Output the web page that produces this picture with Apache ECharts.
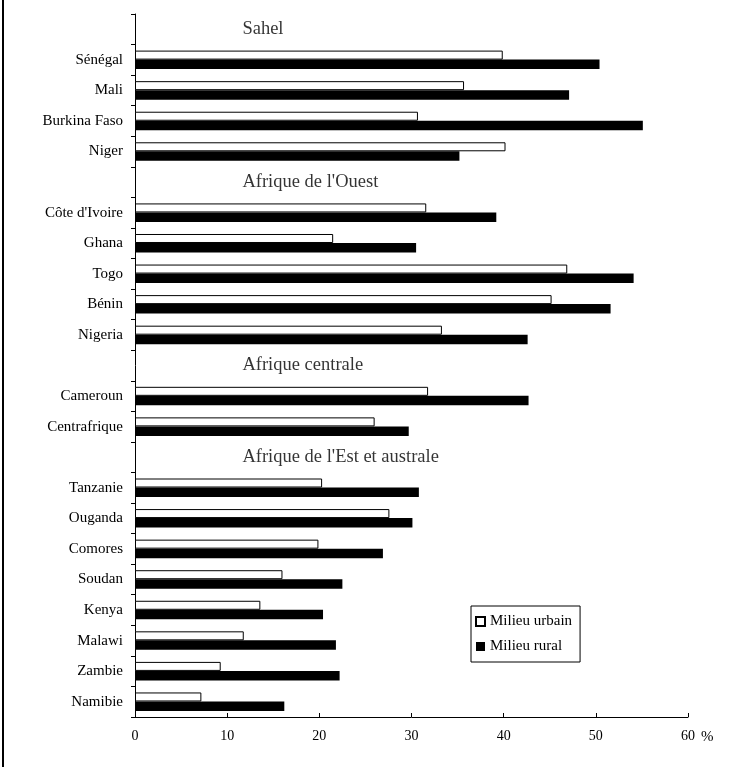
<!DOCTYPE html>
<html>
<head>
<meta charset="utf-8">
<script src="https://cdn.jsdelivr.net/npm/echarts@6/dist/echarts.min.js"></script>
<style>
html,body{margin:0;padding:0;background:#fff;}
#chart{width:730px;height:767px;}
</style>
</head>
<body>
<div id="chart"></div>
<script>
// Row categories (group headers are rows without bars)
const categories = ['Sahel','Sénégal','Mali','Burkina Faso','Niger',
  "Afrique de l'Ouest","Côte d'Ivoire",'Ghana','Togo','Bénin','Nigeria',
  'Afrique centrale','Cameroun','Centrafrique',
  "Afrique de l'Est et australe",'Tanzanie','Ouganda','Comores','Soudan','Kenya','Malawi','Zambie','Namibie'];
const groupHeaders = ['Sahel',"Afrique de l'Ouest",'Afrique centrale',"Afrique de l'Est et australe"];
const urbain = ['-',39.9,35.7,30.7,40.2,'-',31.6,21.5,46.9,45.2,33.3,'-',31.8,26.0,'-',20.3,27.6,19.9,16.0,13.6,11.8,9.3,7.2];
const rural  = ['-',50.4,47.1,55.1,35.2,'-',39.2,30.5,54.1,51.6,42.6,'-',42.7,29.7,'-',30.8,30.1,26.9,22.5,20.4,21.8,22.2,16.2];
const xTicks = [0,10,20,30,40,50,60];
const seriesNames = ['Milieu urbain','Milieu rural'];

const FONT = 'Liberation Serif';
const headerX = 11.6;

const chart = echarts.init(document.getElementById('chart'), null, {renderer:'canvas'});
chart.setOption({
  animation:false,
  backgroundColor:'#fff',
  textStyle:{fontFamily:FONT,color:'#000'},
  grid:{left:135,right:42,top:14,bottom:50,containLabel:false},
  legend:{
    orient:'vertical',
    left:471, top:606,
    data:seriesNames,
    itemWidth:9, itemHeight:9, itemGap:10,
    padding:[8,8,8,4],
    borderColor:'#000', borderWidth:1,
    icon:'rect',
    formatter:n=>'{t|'+n+'}',
    textStyle:{fontFamily:FONT,fontSize:15,color:'#000',
      rich:{t:{fontFamily:FONT,fontSize:15,color:'#000'}}}
  },
  xAxis:{
    type:'value', min:xTicks[0], max:xTicks[xTicks.length-1], interval:xTicks[1]-xTicks[0],
    axisLine:{show:true,lineStyle:{color:'#000',width:1}},
    axisTick:{show:true,inside:true,length:4,lineStyle:{color:'#000'}},
    splitLine:{show:false},
    axisLabel:{color:'#000',fontFamily:FONT,fontSize:14,margin:12},
    name:'%', nameLocation:'end', nameGap:12,
    nameTextStyle:{color:'#000',fontFamily:FONT,fontSize:15,verticalAlign:'top',padding:[13,0,0,0]}
  },
  yAxis:{
    type:'category', inverse:true, data:categories,
    axisLine:{show:true,lineStyle:{color:'#000',width:1}},
    axisTick:{show:true,length:4,lineStyle:{color:'#000'}},
    axisLabel:{color:'#000',fontFamily:FONT,fontSize:15,margin:12,
      formatter:v=>groupHeaders.includes(v)?'':v}
  },
  series:[
    {name:seriesNames[0],type:'bar',data:urbain,barWidth:9,barGap:'0%',
      itemStyle:{color:'#fff',borderColor:'#000',borderWidth:1}},
    {name:seriesNames[1],type:'bar',data:rural,barWidth:9.5,barGap:'0%',
      itemStyle:{color:'#000',borderColor:'#000',borderWidth:0}},
    {name:'headers',type:'scatter',symbolSize:1,silent:true,
      itemStyle:{color:'rgba(0,0,0,0)'},
      data:groupHeaders.map(h=>[headerX,h]),
      label:{show:true,position:'right',distance:0,color:'#000',fontFamily:FONT,fontSize:18.5,
        formatter:p=>p.value[1]}}
  ],
  graphic:[{type:'line',shape:{x1:3,y1:0,x2:3,y2:767},style:{stroke:'#000',lineWidth:2}}]
});
</script>
</body>
</html>
